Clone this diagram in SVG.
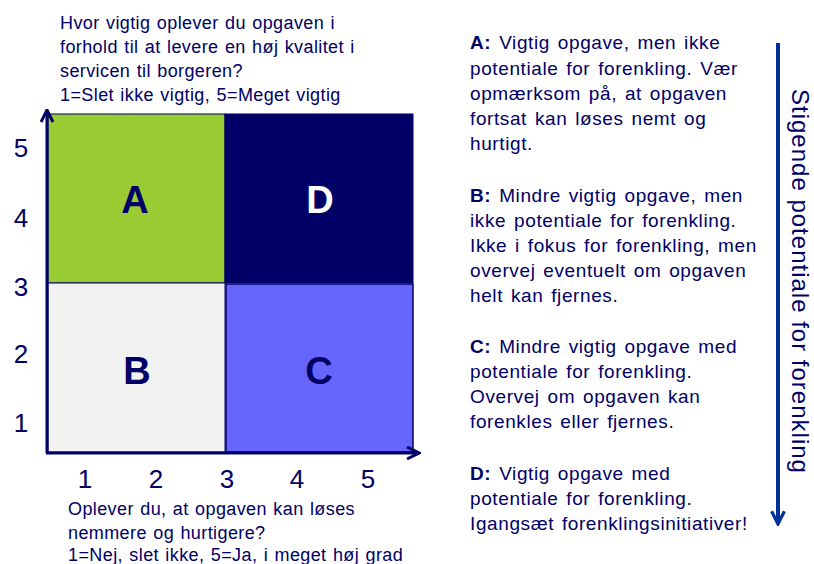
<svg xmlns="http://www.w3.org/2000/svg" width="814" height="564" viewBox="0 0 814 564">
<style>
text{font-family:"Liberation Sans",Arial,sans-serif;fill:#000066}
.q{font-size:18px;letter-spacing:0.4px;word-spacing:1px}
.d{font-size:19px;letter-spacing:0.6px;word-spacing:2px}
.ax{font-size:26px}
.big{font-size:38px;font-weight:bold}
.ax-line{stroke:#000066;stroke-width:3;fill:none}
</style>
<defs>
<marker id="chev" viewBox="0 0 10 10" refX="9" refY="5" markerWidth="5" markerHeight="5" orient="auto" markerUnits="strokeWidth">
<path d="M1,1 L9,5 L1,9" fill="none" stroke="#000066" stroke-width="2"/>
</marker>
<marker id="chev2" viewBox="0 0 10 10" refX="9" refY="5" markerWidth="4" markerHeight="4" orient="auto" markerUnits="strokeWidth">
<path d="M1,1 L9,5 L1,9" fill="none" stroke="#003399" stroke-width="2"/>
</marker>
</defs>
<rect width="814" height="564" fill="#ffffff"/>
<g id="quadA"><rect x="48" y="114" width="177" height="169" fill="#99CC33" stroke="#000066" stroke-width="1"/><text class="big" x="135" y="213" text-anchor="middle">A</text></g>
<g id="quadD"><rect x="225" y="114" width="188" height="169" fill="#000066" stroke="#000066" stroke-width="1"/><text class="big" x="320" y="213" text-anchor="middle" style="fill:#ffffff">D</text></g>
<g id="quadB"><rect x="48" y="283" width="177" height="169" fill="#F2F2F2" stroke="#000066" stroke-width="1"/><text class="big" x="137" y="384" text-anchor="middle">B</text></g>
<g id="quadC"><rect x="226" y="284" width="187" height="168" fill="#6666FF" stroke="#000066" stroke-width="1.5"/><text class="big" x="319" y="384" text-anchor="middle">C</text></g>
<g id="connectors">
<path class="ax-line" d="M47,453 L47,110" marker-end="url(#chev)"/>
<path class="ax-line" d="M46,453 L419,453" marker-end="url(#chev)"/>
<path d="M778,43 L778,524" stroke="#003399" stroke-width="4" fill="none" marker-end="url(#chev2)"/>
</g>
<g id="yLabels">
<text class="ax" x="21" y="157" text-anchor="middle">5</text>
<text class="ax" x="21" y="227" text-anchor="middle">4</text>
<text class="ax" x="21" y="296" text-anchor="middle">3</text>
<text class="ax" x="21" y="363" text-anchor="middle">2</text>
<text class="ax" x="21" y="432" text-anchor="middle">1</text>
</g>
<g id="xLabels">
<text class="ax" x="85" y="488" text-anchor="middle">1</text>
<text class="ax" x="156" y="488" text-anchor="middle">2</text>
<text class="ax" x="227" y="488" text-anchor="middle">3</text>
<text class="ax" x="297" y="488" text-anchor="middle">4</text>
<text class="ax" x="368" y="488" text-anchor="middle">5</text>
</g>
<g id="yTitle">
<text class="q" x="60" y="29">Hvor vigtig oplever du opgaven i</text>
<text class="q" x="60" y="53">forhold til at levere en høj kvalitet i</text>
<text class="q" x="60" y="77">servicen til borgeren?</text>
<text class="q" x="60" y="101">1=Slet ikke vigtig, 5=Meget vigtig</text>
</g>
<g id="xTitle">
<text class="q" x="68" y="515">Oplever du, at opgaven kan løses</text>
<text class="q" x="68" y="539">nemmere og hurtigere?</text>
<text class="q" x="68" y="561">1=Nej, slet ikke, 5=Ja, i meget høj grad</text>
</g>
<g id="descA">
<text class="d" x="470" y="49"><tspan font-weight="bold">A:</tspan> Vigtig opgave, men ikke</text>
<text class="d" x="470" y="75">potentiale for forenkling. Vær</text>
<text class="d" x="470" y="100">opmærksom på, at opgaven</text>
<text class="d" x="470" y="125">fortsat kan løses nemt og</text>
<text class="d" x="470" y="150">hurtigt.</text>
</g>
<g id="descB">
<text class="d" x="470" y="202"><tspan font-weight="bold">B:</tspan> Mindre vigtig opgave, men</text>
<text class="d" x="470" y="227">ikke potentiale for forenkling.</text>
<text class="d" x="470" y="252">Ikke i fokus for forenkling, men</text>
<text class="d" x="470" y="277">overvej eventuelt om opgaven</text>
<text class="d" x="470" y="302">helt kan fjernes.</text>
</g>
<g id="descC">
<text class="d" x="470" y="353"><tspan font-weight="bold">C:</tspan> Mindre vigtig opgave med</text>
<text class="d" x="470" y="378">potentiale for forenkling.</text>
<text class="d" x="470" y="403">Overvej om opgaven kan</text>
<text class="d" x="470" y="428">forenkles eller fjernes.</text>
</g>
<g id="descD">
<text class="d" x="470" y="480"><tspan font-weight="bold">D:</tspan> Vigtig opgave med</text>
<text class="d" x="470" y="505">potentiale for forenkling.</text>
<text class="d" x="470" y="530">Igangsæt forenklingsinitiativer!</text>
</g>
<g id="sideLabel">
<text x="0" y="0" transform="translate(792,89) rotate(90)" style="font-size:24px;letter-spacing:1px">Stigende potentiale for forenkling</text>
</g>
</svg>
